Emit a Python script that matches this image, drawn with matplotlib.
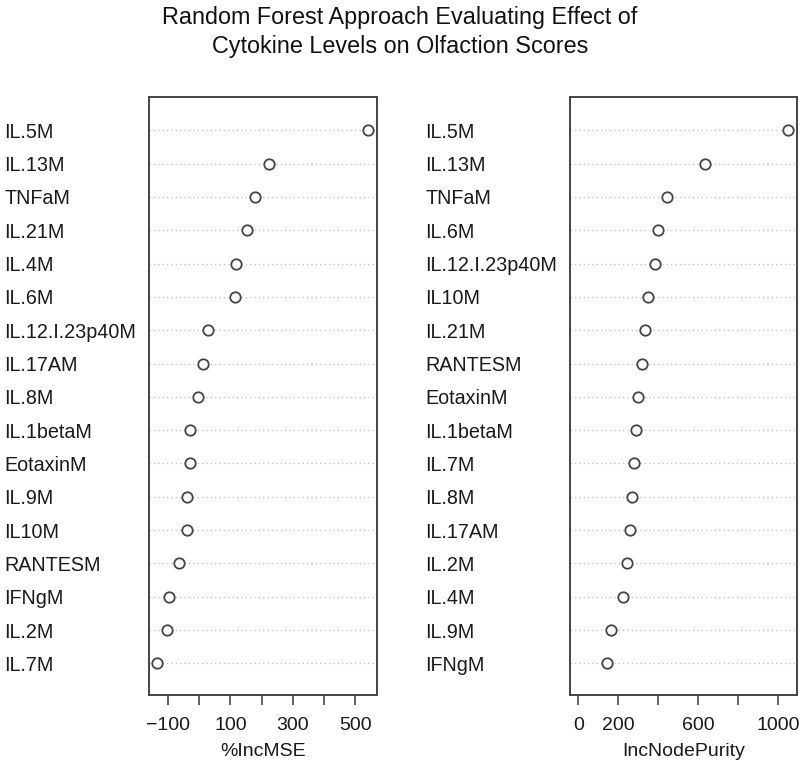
import numpy as np
import matplotlib
matplotlib.use('Agg')
import matplotlib.pyplot as plt

plt.rcParams['font.family'] = ['Liberation Sans', 'DejaVu Sans']

# top to bottom, as drawn
mse_names = ['IL.5M', 'IL.13M', 'TNFaM', 'IL.21M', 'IL.4M', 'IL.6M', 'IL.12.I.23p40M',
             'IL.17AM', 'IL.8M', 'IL.1betaM', 'EotaxinM', 'IL.9M', 'IL10M', 'RANTESM',
             'IFNgM', 'IL.2M', 'IL.7M']
mse_vals = [541, 225, 178, 154, 117, 114, 27, 12, -5, -30, -29, -37, -40, -64, -97, -101, -133]

pur_names = ['IL.5M', 'IL.13M', 'TNFaM', 'IL.6M', 'IL.12.I.23p40M', 'IL10M', 'IL.21M',
             'RANTESM', 'EotaxinM', 'IL.1betaM', 'IL.7M', 'IL.8M', 'IL.17AM', 'IL.2M',
             'IL.4M', 'IL.9M', 'IFNgM']
pur_vals = [1053, 636, 444, 397, 382, 350, 336, 320, 300, 288, 278, 271, 261, 243, 226, 163, 141]

mse_ticks = [-100, 0, 100, 200, 300, 400, 500]
mse_ticklabels = ['\u2212100', '', '100', '', '300', '', '500']
pur_ticks = [0, 200, 400, 600, 800, 1000]
pur_ticklabels = ['0', '200', '', '600', '', '1000']

fig = plt.figure(figsize=(8, 7.72), dpi=100)
fig.text(0.5, 0.992, 'Random Forest Approach Evaluating Effect of\nCytokine Levels on Olfaction Scores',
         ha='center', va='top', fontsize=16.8, linespacing=1.34, color='#111111')

def panel(rect, names, vals, xmin, ticks, ticklabels, xlabel):
    ax = fig.add_axes(rect)
    n = len(vals)
    y = np.arange(n, 0, -1)
    lo = xmin if xmin is not None else min(vals)
    hi = max(vals)
    pad = 0.04 * (hi - lo)
    ax.set_xlim(lo - pad, hi + pad)
    ax.set_ylim(0.05, n + 1)
    for yy in y:
        ax.axhline(yy, color='#bbbbbb', linestyle=(0, (1, 2.5)), linewidth=0.9, zorder=1)
    ax.plot(vals, y, linestyle='none', marker='o', markersize=7.5, markerfacecolor='white',
            markeredgecolor='#444444', markeredgewidth=1.3, zorder=3)
    ax.set_yticks(y)
    ax.set_yticklabels(names, ha='left', fontsize=14.2, color='#1a1a1a')
    ax.tick_params(axis='y', length=0, pad=104)
    ax.set_xticks(ticks)
    ax.set_xticklabels(ticklabels, fontsize=14, color='#1a1a1a')
    ax.tick_params(axis='x', direction='out', length=7.5, width=1.2, color='#444444', pad=8)
    ax.set_xlabel(xlabel, fontsize=14, color='#1a1a1a', labelpad=7)
    for s in ax.spines.values():
        s.set_color('#444444')
        s.set_linewidth(1.4)
    return ax

panel([0.1863, 0.0997, 0.2846, 0.7746], mse_names, mse_vals, None,
      mse_ticks, mse_ticklabels, '%IncMSE')
panel([0.7125, 0.0997, 0.2834, 0.7746], pur_names, pur_vals, 0,
      pur_ticks, pur_ticklabels, 'IncNodePurity')

fig.savefig('out.png', dpi=100)
